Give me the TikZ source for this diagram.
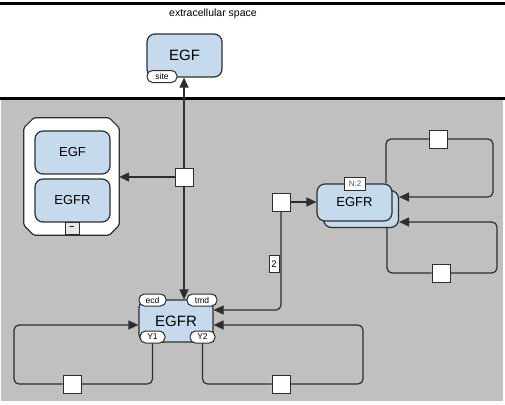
\documentclass[tikz,border=0pt]{standalone}
\usepackage{fontspec}
\setmainfont{Liberation Sans}
\usetikzlibrary{arrows.meta}
\definecolor{egink}{HTML}{2E2E2E}
\definecolor{egcell}{HTML}{C0C0C0}
\definecolor{egmacrofill}{HTML}{C6DAEE}
\definecolor{egminusfill}{HTML}{E6E6E6}
\tikzset{
  egmacro/.style={
    draw=egink,
    fill=egmacrofill,
    rounded corners=8pt,
    line width=1.2pt,
    minimum width=75pt,
    minimum height=43pt,
    inner sep=0pt,
    font=\fontsize{15}{18}\selectfont,
    text=black
  },
  egsmall/.style={egmacro, font=\fontsize{13}{16}\selectfont},
  egunit/.style={
    draw=egink,
    fill=white,
    rounded corners=5.5pt,
    line width=1pt,
    minimum height=12pt,
    inner sep=0pt,
    font=\fontsize{8.5}{9}\selectfont
  },
  egtag/.style={egunit, rounded corners=0pt, minimum height=13pt},
  egproc/.style={draw=egink, fill=white, line width=1pt, minimum size=18pt,
    inner sep=0pt},
  egline/.style={line width=1.2pt, draw=egink, rounded corners=5pt},
  egedge/.style={egline, -{Triangle[length=10pt,width=9pt]}},
  egwall/.style={line width=3pt, draw=black}
}

\begin{document}
\begin{tikzpicture}[x=1pt,y=-1pt]
  \useasboundingbox (0,0) rectangle (505,404);
  % compartments
  \fill[egcell] (1,99) rectangle (503,401);
  \draw[egwall] (0,4) -- (505,4);
  \draw[egwall] (0,98.5) -- (505,98.5);
  \node[font=\fontsize{10.5}{12}\selectfont] (ecs) at (213,14) {extracellular space};

  % outside
  \node[egmacro] (egf) at (184.5,55.5) {EGF};
  \node[egunit, minimum width=30pt] (site) at (162,76.5) {site};

  % complex
  \node[minimum width=95pt, minimum height=117pt, inner sep=0pt] (cpx) at (71.5,176.5) {};
  \draw[draw=egink, fill=white, line width=1.2pt, rounded corners=1.5pt]
    ([xshift=10pt]cpx.north west) -- ([xshift=-10pt]cpx.north east)
    -- ([yshift=-10pt]cpx.north east) -- ([yshift=10pt]cpx.south east)
    -- ([xshift=-10pt]cpx.south east) -- ([xshift=10pt]cpx.south west)
    -- ([yshift=10pt]cpx.south west) -- ([yshift=-10pt]cpx.north west) -- cycle;
  \node[egsmall] (cegf) at (72.5,152.5) {EGF};
  \node[egsmall] (cegfr) at (72.5,200.5) {EGFR};
  \node[draw=egink, fill=egminusfill, line width=0.8pt, minimum width=14pt,
    minimum height=12pt, inner sep=0pt] (cmin) at (72,228)
    {\fontsize{9}{9}\selectfont\textbf{--}};

  % receptor
  \node[egmacro, minimum height=42pt, minimum width=74pt] (egfr) at (176,321) {EGFR};
  \node[egunit, minimum width=27pt] (ecd) at (152.5,300) {ecd};
  \node[egunit, minimum width=30pt] (tmd) at (202,300) {tmd};
  \node[egunit, minimum width=25pt] (y1) at (152.5,337) {Y1};
  \node[egunit, minimum width=25pt] (y2) at (202.5,337) {Y2};

  % multimer
  \node[egsmall, minimum height=37pt] (mb) at (361,209) {};
  \node[egsmall, minimum height=37pt] (mf) at (354.5,202.5) {EGFR};
  \node[egtag, minimum width=21pt, text=egink!80, font=\fontsize{8}{9}\selectfont]
    (nt) at (355,183.5) {N:2};

  % processes
  \node[egproc] (p1) at (184,177) {};
  \node[egproc] (p2) at (281,202) {};
  \node[egproc] (p3) at (438,139) {};
  \node[egproc] (p4) at (441,273) {};
  \node[egproc] (p5) at (72,384) {};
  \node[egproc] (p6) at (281,384) {};

  \coordinate (t1) at (493,197);
  \coordinate (b1) at (497,222);
  \coordinate (l1) at (14,325);
  \coordinate (r1) at (363,325);

  \draw[egedge] (p1.north) -- (p1.north |- egf.south);
  \draw[egedge] (p1.west) -- (p1.west -| cpx.east);
  \draw[egedge] (p1.south) -- (p1.south |- egfr.north);

  \draw[egedge] (p2.east) -- (p2.east -| mf.west);
  \draw[egedge] (p2.south) |- ([yshift=11pt]egfr.east);
  \node[draw=egink, fill=white, line width=0.8pt, minimum width=10pt,
    minimum height=17pt, inner sep=0pt, font=\fontsize{9.5}{10}\selectfont]
    (card) at (274,264) {2};

  \draw[egline] ([xshift=31.5pt]mf.north) |- (p3.west);
  \draw[egedge] (p3.east) -| (t1) -- (t1 -| mb.east);
  \draw[egline] ([xshift=26pt]mb.south) |- (p4.west);
  \draw[egedge] (p4.east) -| (b1) -- (b1 -| mb.east);

  \draw[egline] (y1.south) |- (p5.east);
  \draw[egedge] (p5.west) -| (l1) -- ([yshift=-4pt]egfr.west);
  \draw[egline] (y2.south) |- (p6.west);
  \draw[egedge] (p6.east) -| (r1) -- ([yshift=-4pt]egfr.east);

  % redraw processes on top
  \node[egproc] at (p1) {};
  \node[egproc] at (p2) {};
  \node[egproc] at (p3) {};
  \node[egproc] at (p4) {};
  \node[egproc] at (p5) {};
  \node[egproc] at (p6) {};
\end{tikzpicture}
\end{document}
